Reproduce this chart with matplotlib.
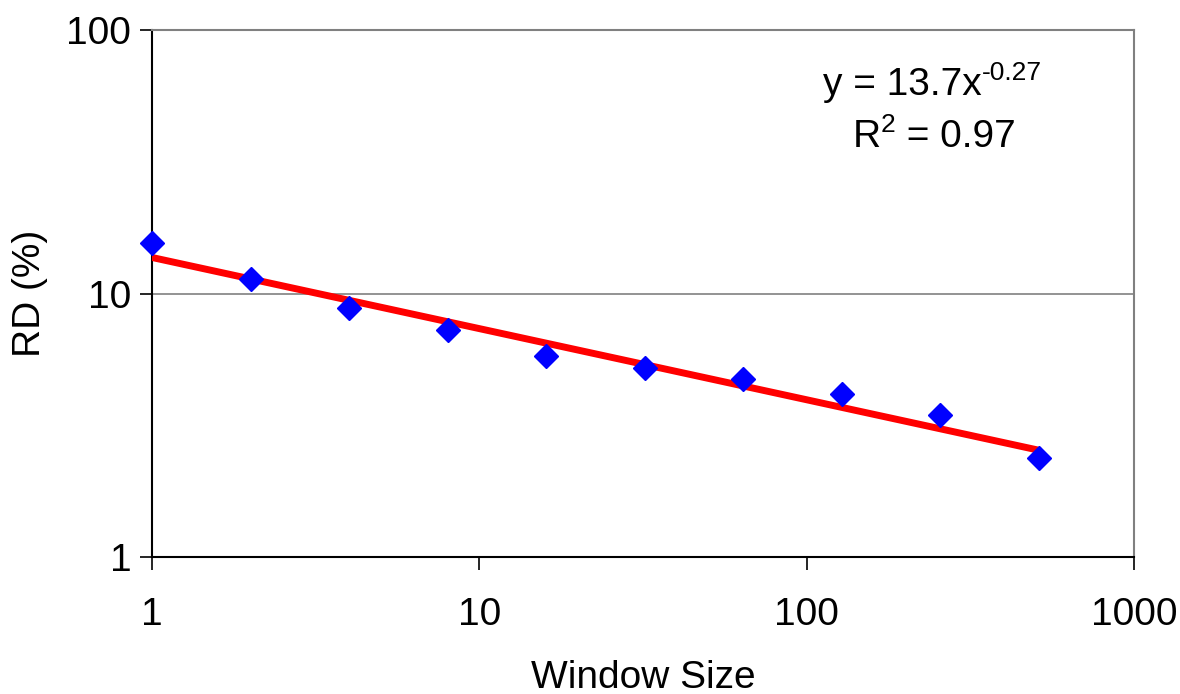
import numpy as np
import matplotlib
matplotlib.use("Agg")
from matplotlib import pyplot as plt

plt.rcParams['font.family'] = ['Liberation Sans', 'DejaVu Sans']

# data
window = [1, 2, 4, 8, 16, 32, 64, 128, 256, 512]
rd = [15.5, 11.4, 8.8, 7.3, 5.8, 5.2, 4.75, 4.15, 3.45, 2.38]
fit_a = 13.7
fit_b = -0.27

fig = plt.figure(figsize=(11.8, 6.94), dpi=100)
ax = fig.add_axes([152/1180, 1-557/694, (1134-152)/1180, (557-30)/694])

xs = np.geomspace(window[0], window[-1], 50)
ax.plot(xs, fit_a * xs**fit_b, color='#ff0000', lw=5, zorder=3, solid_capstyle='round')
ax.plot(window, rd, 'D', color='#0000ff', ms=12, mec='#0000ff', zorder=4, clip_on=False)

ax.set_xscale('log')
ax.set_yscale('log')
ax.set_xlim(1, 1000)
ax.set_ylim(1, 100)
ax.set_xticks([1, 10, 100, 1000])
ax.set_xticklabels(['1', '10', '100', '1000'])
ax.set_yticks([1, 10, 100])
ax.set_yticklabels(['1', '10', '100'])
ax.minorticks_off()
ax.tick_params(axis='both', direction='out', length=9, width=1.2, color='black', labelsize=28)
ax.tick_params(axis='x', pad=20)
ax.tick_params(axis='y', pad=6)
ax.axhline(10, color='#808080', lw=1.2, zorder=1)

for s in ['left', 'bottom']:
    ax.spines[s].set_color('black')
    ax.spines[s].set_linewidth(1.5)
for s in ['top', 'right']:
    ax.spines[s].set_color('#808080')
    ax.spines[s].set_linewidth(1.5)

ax.set_xlabel('Window Size', fontsize=28, labelpad=19)
ax.set_ylabel('RD (%)', fontsize=28, labelpad=13)

# trendline label, plain hyphen in the exponent as in the original
t1 = fig.text(823/1180, 1-85/694, 'y = 13.7x', fontsize=28, ha='left', va='center')
ax.annotate('-0.27', xy=(1, 0.5), xycoords=t1, fontsize=19, ha='left', va='bottom')
t2 = fig.text(853/1180, 1-137/694, 'R', fontsize=28, ha='left', va='center')
t3 = ax.annotate('2', xy=(1, 0.5), xycoords=t2, fontsize=19, ha='left', va='bottom')
ax.annotate(' = 0.97', xy=(1.0, 0.5), xycoords=(t3, t2), fontsize=28, ha='left', va='center')

fig.savefig('out.png', dpi=100)
